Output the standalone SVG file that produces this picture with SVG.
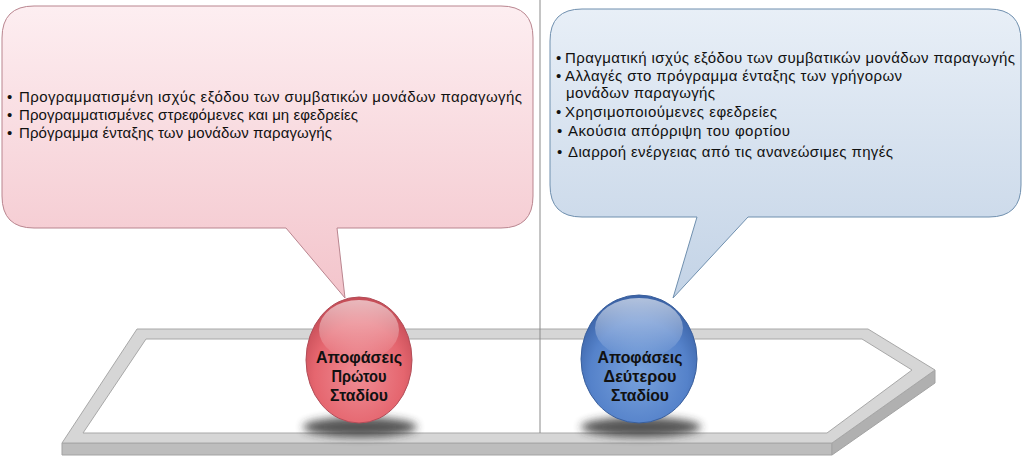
<svg xmlns="http://www.w3.org/2000/svg" width="1024" height="457" viewBox="0 0 1024 457">
<style>
.t{font-family:"Liberation Sans",Arial,sans-serif;font-size:15px;fill:#111}
.b{font-family:"Liberation Sans",Arial,sans-serif;font-size:17px;font-weight:bold;fill:#111;text-anchor:middle}
</style>
<defs>
<linearGradient id="gPink" x1="0" y1="0" x2="0" y2="1">
<stop offset="0" stop-color="#fdeef1"/><stop offset="1" stop-color="#f3c4cb"/>
</linearGradient>
<linearGradient id="gBlue" x1="0" y1="0" x2="0" y2="1">
<stop offset="0" stop-color="#e8eff7"/><stop offset="1" stop-color="#c3d3e6"/>
</linearGradient>
<radialGradient id="gRed" cx="0.5" cy="0.62" r="0.6">
<stop offset="0" stop-color="#ef8d95"/><stop offset="0.7" stop-color="#e5666f"/><stop offset="1" stop-color="#c74e58"/>
</radialGradient>
<radialGradient id="gBl" cx="0.5" cy="0.62" r="0.6">
<stop offset="0" stop-color="#79a2dc"/><stop offset="0.7" stop-color="#5582ca"/><stop offset="1" stop-color="#3c64a8"/>
</radialGradient>
<linearGradient id="gHi" x1="0" y1="0" x2="0" y2="1">
<stop offset="0" stop-color="#fff" stop-opacity="0.6"/><stop offset="1" stop-color="#fff" stop-opacity="0"/>
</linearGradient>
<filter id="blur" x="-50%" y="-100%" width="200%" height="300%"><feGaussianBlur stdDeviation="4"/></filter>
</defs>

<g id="platform">
<polygon points="62,443 832,443 832,455 62,455" fill="#bdbdbd" stroke="#a3a3a3" stroke-width="1"/>
<polygon points="832,443 935,370 935,383 832,455" fill="#b0b0b0" stroke="#a3a3a3" stroke-width="1"/>
<path d="M137,329 L868,329 L935,370 L832,443 L62,443 Z M146,339 L83,433 L827,433 L912,370 L862,339 Z" fill="#d6d6d6" fill-rule="evenodd" stroke="#a8a8a8" stroke-width="1"/>
</g>

<g id="connectors">
<line x1="540" y1="0" x2="540" y2="433" stroke="#8a8a8a" stroke-width="1"/>
</g>

<g id="callout-first">
<path d="M34,6 H501 Q533,6 533,38 V196 Q533,228 501,228 H337 L345,298 L286,228 H34 Q2,228 2,196 V38 Q2,6 34,6 Z" fill="url(#gPink)" stroke="#b9858f" stroke-width="1"/>
<text class="t" x="7" y="102">•</text>
<text class="t" x="19" y="102" textLength="503" lengthAdjust="spacing">Προγραμματισμένη ισχύς εξόδου των συμβατικών μονάδων παραγωγής</text>
<text class="t" x="7" y="120">•</text>
<text class="t" x="19" y="120" textLength="339" lengthAdjust="spacing">Προγραμματισμένες στρεφόμενες και μη εφεδρείες</text>
<text class="t" x="7" y="138">•</text>
<text class="t" x="19" y="138" textLength="313" lengthAdjust="spacing">Πρόγραμμα ένταξης των μονάδων παραγωγής</text>
</g>

<g id="callout-second">
<path d="M582,9 H989 Q1021,9 1021,41 V185 Q1021,217 989,217 H748 L673,298 L697,217 H582 Q550,217 550,185 V41 Q550,9 582,9 Z" fill="url(#gBlue)" stroke="#6f8fae" stroke-width="1"/>
<text class="t" x="556" y="63" font-size="12">•</text>
<text class="t" x="565" y="63" textLength="450" lengthAdjust="spacing">Πραγματική ισχύς εξόδου των συμβατικών μονάδων παραγωγής</text>
<text class="t" x="556" y="81" font-size="12">•</text>
<text class="t" x="565" y="81" textLength="337" lengthAdjust="spacing">Αλλαγές στο πρόγραμμα ένταξης των γρήγορων</text>
<text class="t" x="566" y="98" textLength="149" lengthAdjust="spacing">μονάδων παραγωγής</text>
<text class="t" x="556" y="117" font-size="12">•</text>
<text class="t" x="565" y="117" textLength="212" lengthAdjust="spacing">Χρησιμοποιούμενες εφεδρείες</text>
<text class="t" x="557" y="136">•</text>
<text class="t" x="568" y="136" textLength="222" lengthAdjust="spacing">Ακούσια απόρριψη του φορτίου</text>
<text class="t" x="557" y="157">•</text>
<text class="t" x="568" y="157" textLength="325" lengthAdjust="spacing">Διαρροή ενέργειας από τις ανανεώσιμες πηγές</text>
</g>

<g id="node-first">
<ellipse cx="360" cy="427" rx="57" ry="10" fill="#2a2a2a" opacity="0.8" filter="url(#blur)"/>
<ellipse cx="359" cy="360" rx="53" ry="63" fill="url(#gRed)" stroke="#b24d58" stroke-width="1"/>
<ellipse cx="359" cy="330" rx="40" ry="30" fill="url(#gHi)"/>
<text class="b" x="359" y="363" textLength="86" lengthAdjust="spacingAndGlyphs">Αποφάσεις</text>
<text class="b" x="359" y="382" textLength="55" lengthAdjust="spacingAndGlyphs">Πρώτου</text>
<text class="b" x="359" y="401" textLength="58" lengthAdjust="spacingAndGlyphs">Σταδίου</text>
</g>

<g id="node-second">
<ellipse cx="641" cy="427" rx="60" ry="10" fill="#2a2a2a" opacity="0.8" filter="url(#blur)"/>
<ellipse cx="639" cy="359" rx="58" ry="64" fill="url(#gBl)" stroke="#3a5f9c" stroke-width="1"/>
<ellipse cx="639" cy="328" rx="44" ry="30" fill="url(#gHi)"/>
<text class="b" x="640" y="363" textLength="85" lengthAdjust="spacingAndGlyphs">Αποφάσεις</text>
<text class="b" x="640" y="382" textLength="73" lengthAdjust="spacingAndGlyphs">Δεύτερου</text>
<text class="b" x="640" y="401" textLength="58" lengthAdjust="spacingAndGlyphs">Σταδίου</text>
</g>
</svg>
